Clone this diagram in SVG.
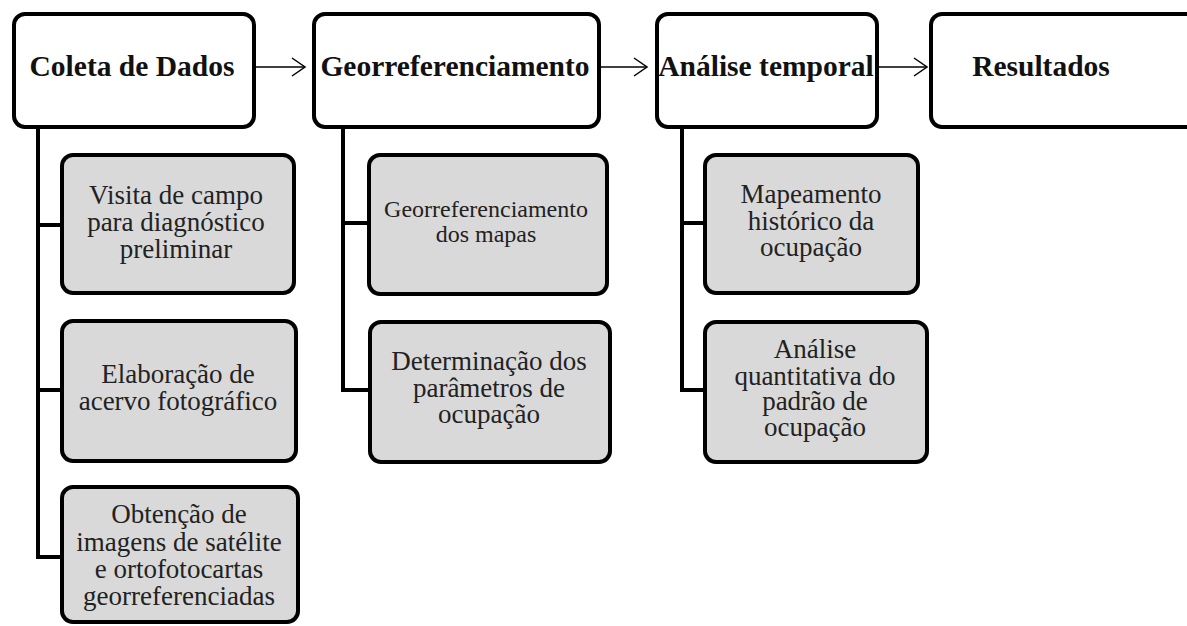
<svg xmlns="http://www.w3.org/2000/svg" width="1187" height="626" viewBox="0 0 1187 626">
<defs>
<style>
.main{fill:#fff;stroke:#000;stroke-width:4}
.sub{fill:#d9d9d9;stroke:#000;stroke-width:4}
.tb{font-family:"Liberation Serif","Times New Roman",serif;font-weight:bold;font-size:29.5px;fill:#111;text-anchor:middle}
.t{font-family:"Liberation Serif","Times New Roman",serif;font-size:27px;fill:#222;text-anchor:middle}
.ts{font-family:"Liberation Serif","Times New Roman",serif;font-size:24px;fill:#222;text-anchor:middle}
.trunk{stroke:#000;stroke-width:4;fill:none}
.arr{stroke:#000;stroke-width:1.5;fill:none}
</style>
<marker id="ah" markerWidth="16" markerHeight="20" refX="14" refY="10" orient="auto" markerUnits="userSpaceOnUse">
<path d="M1,1 L14,10 L1,19" fill="none" stroke="#000" stroke-width="1.5"/>
</marker>
</defs>
<rect width="1187" height="626" fill="#fff"/>
<g id="connectors">
<path class="trunk" d="M38,127 V557 M36,225 H62 M36,390 H62 M36,557 H62"/>
<path class="trunk" d="M343,127 V390 M341,223 H369 M341,390 H370"/>
<path class="trunk" d="M682,127 V390 M680,223 H705 M680,390 H705"/>
<line class="arr" x1="250" y1="67" x2="305" y2="67" marker-end="url(#ah)"/>
<line class="arr" x1="596" y1="67" x2="647" y2="67" marker-end="url(#ah)"/>
<line class="arr" x1="877" y1="67" x2="927" y2="67" marker-end="url(#ah)"/>
</g>
<g id="coleta"><rect class="main" x="14" y="14" width="240" height="113" rx="11"/><text class="tb" x="132" y="76">Coleta de Dados</text></g>
<g id="georref"><rect class="main" x="314" y="14" width="285" height="113" rx="11"/><text class="tb" x="455" y="76">Georreferenciamento</text></g>
<g id="analise"><rect class="main" x="657" y="14" width="220" height="113" rx="11"/><text class="tb" x="766" y="76">Análise temporal</text></g>
<g id="resultados"><rect class="main" x="931" y="14" width="280" height="113" rx="11"/><text class="tb" x="1041" y="76">Resultados</text></g>
<g id="visita"><rect class="sub" x="62" y="155" width="232" height="138" rx="11"/><text class="t" y="204"><tspan x="176">Visita de campo</tspan><tspan x="176" dy="27">para diagnóstico</tspan><tspan x="176" dy="27">preliminar</tspan></text></g>
<g id="elaboracao"><rect class="sub" x="62" y="321" width="234" height="140" rx="11"/><text class="t" y="383"><tspan x="178">Elaboração de</tspan><tspan x="178" dy="27">acervo fotográfico</tspan></text></g>
<g id="obtencao"><rect class="sub" x="62" y="487" width="236" height="135" rx="11"/><text class="t" y="523"><tspan x="179">Obtenção de</tspan><tspan x="179" dy="28">imagens de satélite</tspan><tspan x="179" dy="27">e ortofotocartas</tspan><tspan x="179" dy="27">georreferenciadas</tspan></text></g>
<g id="georref-mapas"><rect class="sub" x="369" y="155" width="238" height="139" rx="11"/><text class="ts" y="217"><tspan x="486">Georreferenciamento</tspan><tspan x="486" dy="25">dos mapas</tspan></text></g>
<g id="determinacao"><rect class="sub" x="370" y="322" width="240" height="140" rx="11"/><text class="t" y="370"><tspan x="489">Determinação dos</tspan><tspan x="489" dy="27">parâmetros de</tspan><tspan x="489" dy="26">ocupação</tspan></text></g>
<g id="mapeamento"><rect class="sub" x="705" y="155" width="213" height="138" rx="11"/><text class="t" y="203"><tspan x="811">Mapeamento</tspan><tspan x="811" dy="27">histórico da</tspan><tspan x="811" dy="26">ocupação</tspan></text></g>
<g id="quantitativa"><rect class="sub" x="705" y="322" width="222" height="140" rx="11"/><text class="t" y="358"><tspan x="815">Análise</tspan><tspan x="815" dy="27">quantitativa do</tspan><tspan x="815" dy="25">padrão de</tspan><tspan x="815" dy="26">ocupação</tspan></text></g>
</svg>
